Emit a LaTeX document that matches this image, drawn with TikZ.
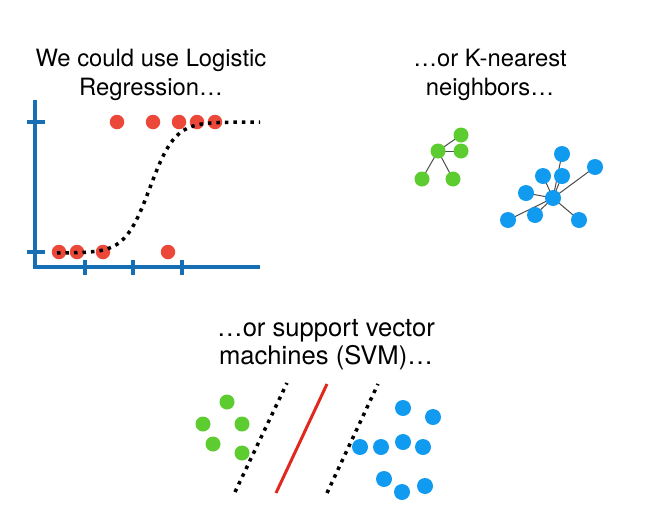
\documentclass[tikz,border=0pt]{standalone}
\usepackage{fontspec}
\setmainfont{TeX Gyre Heros}
\usetikzlibrary{backgrounds}
\definecolor{axisblue}{RGB}{22,110,180}
\definecolor{dotred}{RGB}{235,72,58}
\definecolor{linered}{RGB}{226,40,30}
\definecolor{dotgreen}{RGB}{92,204,48}
\definecolor{dotblue}{RGB}{16,155,240}

\begin{document}
\begin{tikzpicture}[x=1pt, y=-1pt,
  every node/.style={inner sep=0pt},
  lbl/.style={align=center, font=\fontsize{23.8}{29}\selectfont},
  biglbl/.style={align=center, font=\fontsize{25.6}{28.3}\selectfont},
  rdot/.style={circle, fill=dotred, minimum size=14.5pt},
  gdot/.style={circle, fill=dotgreen, minimum size=15pt},
  bdot/.style={circle, fill=dotblue, minimum size=16pt},
  axis/.style={draw=axisblue, line width=3.5pt},
  dots/.style={line width=3.5pt, dash pattern=on 3.5pt off 5pt},
  edge/.style={draw=black!70, line width=1pt}]
  \useasboundingbox (0,0) rectangle (672,520);

  % labels
  \node[lbl] (logreg) at (151,75) {We could use Logistic\\Regression\ldots};
  \node[lbl] (knn) at (490,75) {\ldots or K-nearest\\neighbors\ldots};
  \node[biglbl] (svm) at (326,345) {\ldots or support vector\\machines (SVM)\ldots};

  % logistic regression
  \draw[axis] (35,100) -- (35,267) -- (260,267);
  \foreach \y in {122,252} {
    \draw[axis] (27,\y) -- (45,\y);
  }
  \foreach \x in {85,133,182} {
    \draw[axis] (\x,260) -- (\x,275);
  }
  \foreach \x [count=\i] in {117,153,179,197,215} {
    \node[rdot] (top\i) at (\x,122) {};
  }
  \foreach \x [count=\i] in {59,77,103,168} {
    \node[rdot] (bot\i) at (\x,252) {};
  }
  \draw[dots] plot[domain=57:260, samples=90] (\x, {253-131/(1+exp(-(\x-150)/12.5))});

  % k-nearest neighbors
  \node[gdot] (g0) at (438,151) {};
  \foreach \x/\y [count=\i] in {461/135, 461/151, 422/179, 453/179} {
    \node[gdot] (g\i) at (\x,\y) {};
  }
  \node[bdot] (b0) at (553,198) {};
  \foreach \x/\y [count=\i] in {562/154, 595/167, 543/176, 562/176, 526/193, 535/215, 508/220, 579/220} {
    \node[bdot] (b\i) at (\x,\y) {};
  }
  \begin{scope}[on background layer]
    \foreach \i in {1,...,4} {
      \draw[edge] (g0.center) -- (g\i.center);
    }
    \foreach \i in {1,...,8} {
      \draw[edge] (b0.center) -- (b\i.center);
    }
  \end{scope}

  % support vector machine
  \foreach \x/\y [count=\i] in {227/402, 203/424, 242/424, 213/444, 242/453} {
    \node[gdot] (s\i) at (\x,\y) {};
  }
  \foreach \x/\y [count=\i] in {403/408, 433/417, 360/447, 381/447, 403/442, 423/447, 384/479, 402/492, 425/486} {
    \node[bdot] (t\i) at (\x,\y) {};
  }
  \coordinate (m1) at (235,492);
  \coordinate (m2) at (287,383);
  \coordinate (h1) at (276,493);
  \coordinate (h2) at (327,384);
  \coordinate (n1) at (327,493);
  \coordinate (n2) at (378,384);
  \draw[dots] (m1) -- (m2);
  \draw[linered, line width=3pt] (h1) -- (h2);
  \draw[dots] (n1) -- (n2);
\end{tikzpicture}
\end{document}
